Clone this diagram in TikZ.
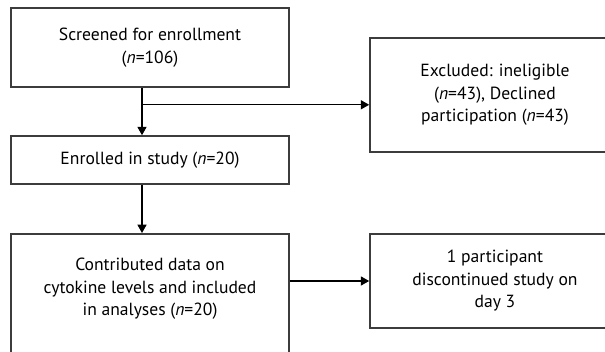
\documentclass[tikz,border=0pt]{standalone}
\usepackage{fontspec}
\setmainfont{PT Sans}
\usetikzlibrary{arrows.meta, positioning, calc}
\definecolor{cline}{HTML}{3C3C3C}
\tikzset{
  every picture/.style={font=\fontsize{12.5}{16}\selectfont},
  box/.style={draw=cline, line width=1.1pt, align=center, inner sep=0pt},
  arrow/.style={-{Triangle[length=6pt, width=6.5pt]}, draw=black, line width=0.9pt},
}
\newcommand{\nval}[1]{(\textit{n}=#1)}

\begin{document}
\begin{tikzpicture}[x=0.025cm, y=-0.025cm]
  \useasboundingbox (0,0) rectangle (605,351);
  \clip (0,0) rectangle (605,351);
  % left column
  \node[box, minimum width=6.95cm, minimum height=1.975cm] (screen) at (150,47.5) {Screened for enrollment\\ \nval{106}};
  \node[box, minimum width=6.95cm, minimum height=1.2cm] (enrol) at (150,160) {Enrolled in study \nval{20}};
  \node[box, minimum width=6.95cm, minimum height=3.4cm, anchor=north] (anl) at (150,233) {};
  \node[align=center] (anltext) at (150,289) {Contributed data on\\ cytokine levels and included\\ in analyses \nval{20}};
  % right column
  \node[box, minimum width=6.25cm, minimum height=2.85cm] (excl) at (495,95) {Excluded: ineligible\\ \nval{43}, Declined\\ participation \nval{43}};
  \node[box, minimum width=6.25cm, minimum height=2.35cm] (disc) at (495,281) {1 participant\\ discontinued study on\\ day 3};
  % connectors
  \coordinate (split) at ($(screen.south)+(-8,17)$);
  \draw[arrow] ($(screen.south)+(-8,0)$) -- ($(enrol.north)+(-8,0)$);
  \draw[arrow] (split) -- (split -| excl.west);
  \draw[arrow] ($(enrol.south)+(-8,0)$) -- ($(anl.north)+(-8,0)$);
  \draw[arrow] (disc.west -| anl.east) -- (disc.west);
\end{tikzpicture}
\end{document}
